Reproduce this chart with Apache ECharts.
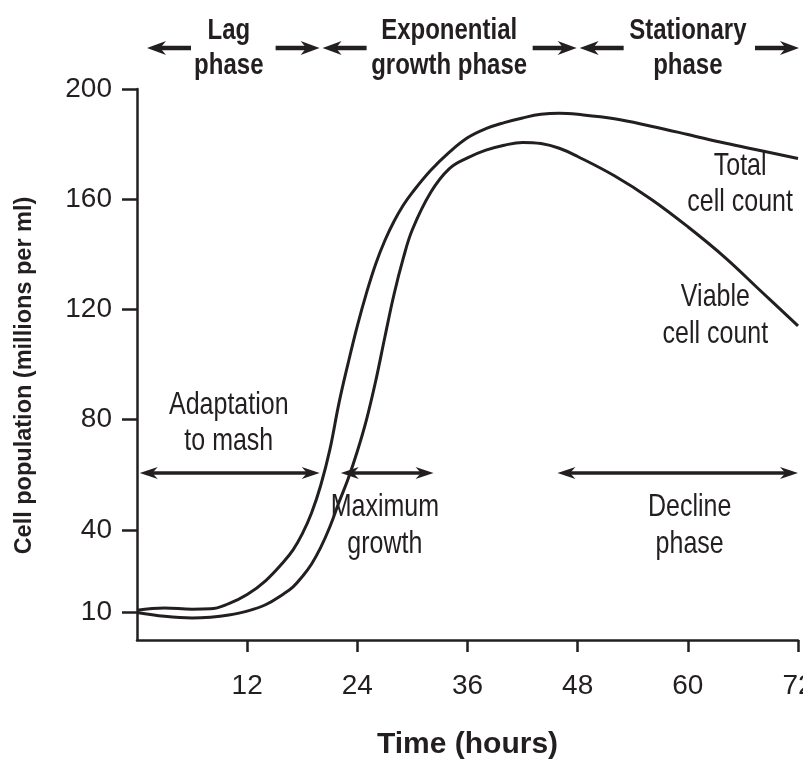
<!DOCTYPE html>
<html>
<head>
<meta charset="utf-8">
<title>Cell population</title>
<script src="https://cdn.jsdelivr.net/npm/echarts@6/dist/echarts.min.js"></script>
<style>
html, body { margin: 0; padding: 0; background: #fff; }
#main { width: 803px; height: 760px; }
</style>
</head>
<body>
<div id="main"></div>
<script>
// time axis (hours) and the two cell counts (millions per ml)
var hours = [0, 3, 6, 8, 10, 12, 14, 16, 17, 18, 19, 20, 21, 22, 23, 24, 25, 26, 27, 28, 29, 30,
             32, 34, 36, 38, 40, 42, 44, 46, 48, 52, 56, 60, 64, 68, 72];
var totalCount = [10.8, 11.6, 11.2, 11.3, 13.2, 16.5, 21.5, 28.5, 32.7, 38.5, 46, 56, 69, 86, 100.5, 114, 126, 136.5, 145, 152, 157.8, 162.5,
                  170.5, 177, 182.3, 185.6, 187.8, 189.5, 190.8, 191.2, 190.8, 189.2, 186.5, 183.5, 180.4, 177.6, 174.8];
var viableCount = [10, 8.6, 8.0, 8.3, 9.1, 10.5, 12.8, 16.8, 19.3, 23, 27.5, 33.5, 41, 50, 58.5, 68.5, 80, 94, 110, 125.5, 138.5, 149,
                   162.5, 171, 175, 177.8, 179.6, 180.6, 180.2, 178.5, 175.5, 168.5, 160, 150, 139, 126.5, 114];

var xTicks = [12, 24, 36, 48, 60, 72];
var yTicks = [10, 40, 80, 120, 160, 200];

// phases shown above the plot: [label, start hour, end hour]
var phases = [
  ['Lag\nphase', 0, 20],
  ['Exponential\ngrowth phase', 20, 48],
  ['Stationary\nphase', 48, 72]
];

// notes inside the plot (hour, value)
var notes = [
  ['Adaptation\nto mash', 10, 78.6],
  ['Maximum\ngrowth', 27, 41.4],
  ['Decline\nphase', 60.2, 41.4],
  ['Total\ncell count', 65.7, 165.3],
  ['Viable\ncell count', 63, 117.6]
];
// double arrows inside the plot: [from hour, to hour, value]
var spans = [
  [0.3, 19.9, 60.6],
  [22.2, 32.3, 60.6],
  [45.8, 72, 60.6]
];

var INK = '#231f20';
var FONT = '"Liberation Sans", Arial, sans-serif';

var chart = echarts.init(document.getElementById('main'));

function pairs(ys) {
  return hours.map(function (h, i) { return [h, ys[i]]; });
}

var option = {
  animation: false,
  grid: { left: 137, right: 5, top: 89, bottom: 120, containLabel: false, outerBoundsMode: 'none' },
  xAxis: {
    type: 'value', min: 0, max: 72, interval: 12,
    name: 'Time (hours)', nameLocation: 'middle', nameGap: 90,
    nameTextStyle: { color: INK, fontFamily: FONT, fontWeight: 'bold', fontSize: 30 },
    axisLine: { lineStyle: { color: INK, width: 2.5 } },
    axisTick: { customValues: xTicks, length: 12, lineStyle: { color: INK, width: 2.5 } },
    axisLabel: { customValues: xTicks, margin: 32, color: INK, fontFamily: FONT, fontSize: 28 },
    splitLine: { show: false }
  },
  yAxis: {
    type: 'value', min: 0, max: 200,
    name: 'Cell population (millions per ml)', nameLocation: 'middle', nameGap: 100,
    nameTextStyle: { color: INK, fontFamily: FONT, fontWeight: 'bold', fontSize: 23.5, padding: [0, 22, 0, 0] },
    axisLine: { lineStyle: { color: INK, width: 2.5 } },
    axisTick: { customValues: yTicks, length: 15, lineStyle: { color: INK, width: 2.5 } },
    axisLabel: { customValues: yTicks, margin: 25, color: INK, fontFamily: FONT, fontSize: 28 },
    splitLine: { show: false }
  },
  series: [
    { name: 'Total cell count', type: 'line', data: pairs(totalCount), smooth: 0.4,
      showSymbol: false, lineStyle: { color: INK, width: 3 } },
    { name: 'Viable cell count', type: 'line', data: pairs(viableCount), smooth: 0.4,
      showSymbol: false, lineStyle: { color: INK, width: 3 } }
  ]
};
chart.setOption(option);

function px(h, v) {
  return chart.convertToPixel({ xAxisIndex: 0, yAxisIndex: 0 }, [h, v]);
}

// arrow: shaft from (x0,y) to tip (x1,y), notched head at x1
function arrow(x0, x1, y, len, half, width) {
  var dir = x1 > x0 ? 1 : -1;
  return [
    { type: 'line', shape: { x1: x0, y1: y, x2: x1 - dir * len * 0.6, y2: y },
      style: { stroke: INK, lineWidth: width } },
    { type: 'polygon', shape: { points: [[x1, y], [x1 - dir * len, y - half], [x1 - dir * len * 0.7, y], [x1 - dir * len, y + half]] },
      style: { fill: INK } }
  ];
}

function label(text, x, y, bold, size) {
  return { type: 'text', x: x, y: y, scaleY: 1.22,
    style: { text: text, fill: INK, fontFamily: FONT, fontWeight: bold ? 'bold' : 'normal', fontSize: size,
             lineHeight: size * 1.2, align: 'center', verticalAlign: 'middle' } };
}

var g = [];
var headY = 48;
phases.forEach(function (p, i) {
  var a = px(p[1], 0)[0], b = px(p[2], 0)[0], mid = px((p[1] + p[2]) / 2, 0)[0];
  var left = i === 0 ? a + 10 : a + 2;
  var right = i === phases.length - 1 ? b + 1 : b - 1;
  g = g.concat(arrow(left + 44, left, headY, 19, 7, 4.5));
  g = g.concat(arrow(right - 44, right, headY, 19, 7, 4.5));
  g.push(label(p[0], mid, headY, true, 24));
});
spans.forEach(function (s) {
  var a = px(s[0], s[2]), b = px(s[1], s[2]);
  g = g.concat(arrow(a[0] + 8, a[0], a[1], 18, 6, 3.5));
  g = g.concat(arrow(a[0] + 8, b[0], a[1], 18, 6, 3.5));
});
notes.forEach(function (n) {
  var p = px(n[1], n[2]);
  g.push(label(n[0], p[0], p[1], false, 25));
});
chart.setOption({ graphic: g });
</script>
</body>
</html>
